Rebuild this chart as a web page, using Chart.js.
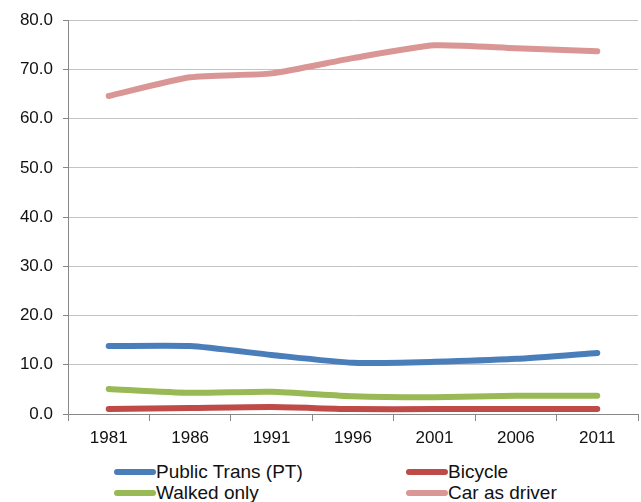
<!DOCTYPE html>
<html>
<head>
<meta charset="utf-8">
<script src="https://cdn.jsdelivr.net/npm/chart.js@4.4.1/dist/chart.umd.min.js"></script>
<style>
    body { margin: 0; background: #fff; font-family: "Liberation Sans", Arial, sans-serif; }
    #wrap { position: relative; width: 641px; height: 502px; overflow: hidden; }
    #chartBox { position: absolute; left: 0; top: 0; width: 641px; height: 455px; }
    #legend { position: absolute; left: 0; top: 460px; width: 641px; height: 42px; }
    .item { position: absolute; height: 22px; font-size: 19px; color: #111; line-height: 22px; white-space: nowrap; }
    .item span.swatch { position: absolute; left: 0; top: 8px; width: 42px; height: 6px; border-radius: 3px; }
    .item span.label { position: absolute; left: 42px; top: 0; }
</style>
</head>
<body>
<div id="wrap">
    <div id="chartBox"><canvas id="modeChart"></canvas></div>
    <div id="legend"></div>
</div>
<script>
const years = ['1981', '1986', '1991', '1996', '2001', '2006', '2011'];
const publicTrans = [13.8, 13.8, 12.0, 10.4, 10.6, 11.2, 12.4];
const bicycle = [1.0, 1.2, 1.4, 1.0, 1.0, 1.0, 1.0];
const walkedOnly = [5.1, 4.3, 4.5, 3.6, 3.4, 3.7, 3.7];
const carAsDriver = [64.6, 68.4, 69.2, 72.3, 74.9, 74.3, 73.7];
const yTicks = [0, 10, 20, 30, 40, 50, 60, 70, 80];

const seriesColors = ['#4a7ebb', '#be4b48', '#98b954', '#d99694'];
const seriesNames = ['Public Trans (PT)', 'Bicycle', 'Walked only', 'Car as driver'];
const seriesData = [publicTrans, bicycle, walkedOnly, carAsDriver];

document.addEventListener('DOMContentLoaded', function () {
    drawChart();
    drawLegend();
});

function drawChart() {
    const ctx = document.getElementById('modeChart').getContext('2d');
    const datasets = seriesData.map(function (d, i) {
        return {
            label: seriesNames[i],
            data: d,
            borderColor: seriesColors[i],
            backgroundColor: seriesColors[i],
            borderWidth: 6,
            borderCapStyle: 'round',
            borderJoinStyle: 'round',
            pointRadius: 0,
            tension: 0.2,
            fill: false
        };
    });

    new Chart(ctx, {
        type: 'line',
        data: { labels: years, datasets: datasets },
        options: {
            responsive: true,
            maintainAspectRatio: false,
            animation: false,
            layout: { padding: { left: 0, right: 3, top: 20, bottom: 0 } },
            plugins: {
                legend: { display: false },
                tooltip: { enabled: false }
            },
            scales: {
                x: {
                    offset: true,
                    grid: {
                        offset: true,
                        drawOnChartArea: false,
                        color: '#888',
                        tickLength: 7
                    },
                    border: { color: '#888', width: 1 },
                    ticks: {
                        color: '#111',
                        font: { family: 'Liberation Sans', size: 17 },
                        padding: 7,
                        maxRotation: 0
                    },
                    afterFit: function (scale) { scale.height = 41; }
                },
                y: {
                    min: 0,
                    max: 80,
                    afterBuildTicks: function (scale) {
                        scale.ticks = yTicks.map(v => ({ value: v }));
                    },
                    grid: {
                        color: '#c4c4c4',
                        lineWidth: 1,
                        tickLength: 5,
                        tickColor: '#888'
                    },
                    border: { color: '#888', width: 1 },
                    ticks: {
                        color: '#111',
                        font: { family: 'Liberation Sans', size: 17 },
                        padding: 10,
                        callback: function (v) { return Number(v).toFixed(1); }
                    },
                    afterFit: function (scale) { scale.width = 68; }
                }
            }
        }
    });
}

function drawLegend() {
    const legend = document.getElementById('legend');
    const positions = [[114, 1], [406, 1], [114, 22], [406, 22]];
    seriesNames.forEach(function (name, i) {
        const item = document.createElement('div');
        item.className = 'item';
        item.style.left = positions[i][0] + 'px';
        item.style.top = positions[i][1] + 'px';
        item.innerHTML = '<span class="swatch" style="background:' + seriesColors[i] + '"></span>' +
            '<span class="label">' + name + '</span>';
        legend.appendChild(item);
    });
}
</script>
</body>
</html>
